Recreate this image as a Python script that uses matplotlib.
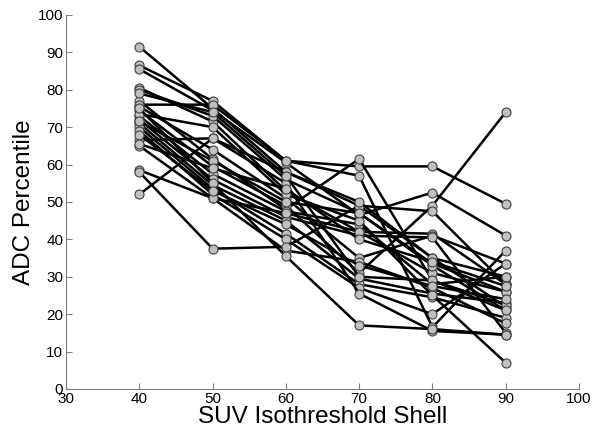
import numpy as np
import matplotlib.pyplot as plt

plt.rcParams['font.family'] = ['Liberation Sans', 'DejaVu Sans']

shells = [40, 50, 60, 70, 80, 90]

# ADC percentile per patient across the isothreshold shells
p01 = [91.5, 75.0, 58.0, 49.0, 35.0, 22.0]
p02 = [86.5, 77.0, 61.0, 59.5, 59.5, 49.5]
p03 = [85.5, 74.5, 60.5, 46.5, 52.5, 41.0]
p04 = [80.5, 71.5, 53.0, 42.0, 41.5, 28.0]
p05 = [80.0, 73.0, 56.0, 47.0, 33.5, 26.0]
p06 = [77.0, 61.5, 48.0, 61.5, 29.0, 21.0]
p07 = [75.5, 64.0, 51.0, 35.0, 41.0, 33.5]
p08 = [74.5, 59.5, 49.0, 31.0, 49.0, 74.0]
p09 = [73.0, 57.5, 47.5, 44.0, 28.0, 30.0]
p10 = [72.0, 56.0, 46.0, 41.0, 40.5, 15.0]
p11 = [71.0, 54.5, 45.0, 29.5, 25.5, 23.0]
p12 = [70.0, 53.5, 41.5, 28.0, 24.5, 19.0]
p13 = [69.0, 52.0, 40.0, 27.0, 20.0, 33.5]
p14 = [66.5, 67.0, 55.0, 25.5, 15.5, 14.5]
p15 = [65.0, 51.0, 37.0, 34.0, 27.0, 17.5]
p16 = [58.5, 51.0, 47.0, 42.0, 31.0, 26.0]
p17 = [58.0, 37.5, 38.0, 49.0, 47.5, 28.0]
p18 = [52.0, 67.0, 58.0, 50.0, 35.0, 30.0]
p19 = [76.0, 76.0, 61.0, 57.0, 16.5, 37.0]
p20 = [73.5, 70.0, 52.0, 45.0, 25.0, 7.0]
p21 = [75.0, 55.0, 35.5, 17.0, 16.0, 14.5]
p22 = [79.0, 74.0, 57.0, 30.0, 29.0, 22.5]
p23 = [71.5, 61.0, 50.0, 47.0, 33.0, 21.0]
p24 = [68.0, 53.0, 44.0, 33.0, 27.5, 24.0]
p25 = [65.5, 59.0, 53.5, 40.0, 34.0, 27.5]

patients = [p01, p02, p03, p04, p05, p06, p07, p08, p09, p10, p11, p12, p13,
            p14, p15, p16, p17, p18, p19, p20, p21, p22, p23, p24, p25]

fig = plt.figure(figsize=(6, 4.38), dpi=100)
ax = fig.add_axes([0.11, 0.112, 0.855, 0.854])

for p in patients:
    ax.plot(shells, p, '-o', color='black', lw=1.8, ms=6.5,
            mfc='#c0c0c0', mec='#404040', mew=0.8)

ax.set_xlim(30, 100)
ax.set_ylim(0, 100)
ax.set_xticks(np.arange(30, 101, 10))
ax.set_yticks(np.arange(0, 101, 10))
ax.set_xlabel('SUV Isothreshold Shell', fontsize=17.5, labelpad=0)
ax.set_ylabel('ADC Percentile', fontsize=17.5, labelpad=2)

for s in ['top', 'right']:
    ax.spines[s].set_visible(False)
for s in ['left', 'bottom']:
    ax.spines[s].set_color('#808080')
ax.tick_params(direction='in', length=4, color='#808080', labelsize=11, pad=2)

plt.savefig('out.png', dpi=100)
